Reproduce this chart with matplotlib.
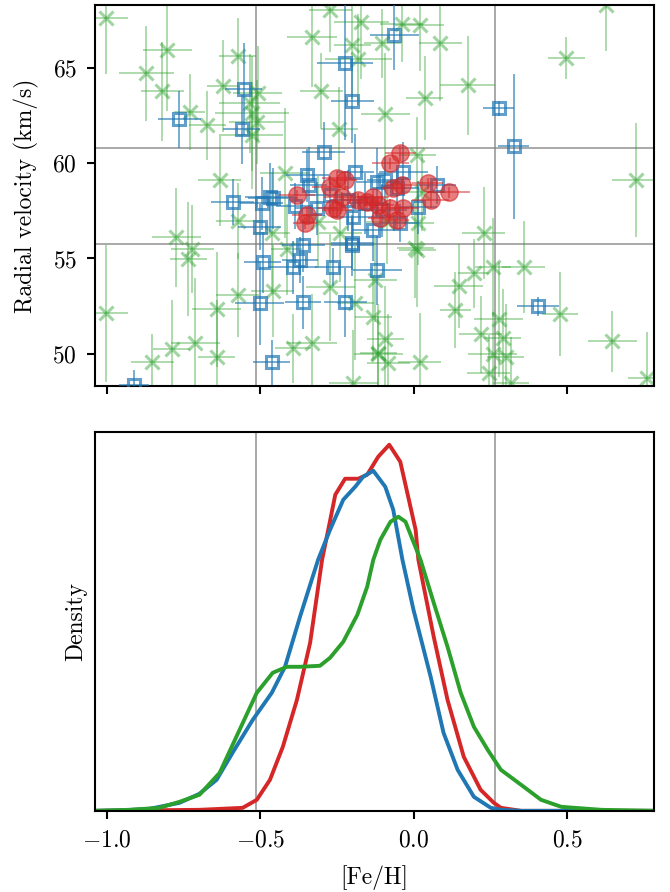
import matplotlib
matplotlib.use('Agg')
import matplotlib.pyplot as plt

plt.rcParams['font.family'] = 'serif'
plt.rcParams['font.serif'] = ['cmr10']
plt.rcParams['mathtext.fontset'] = 'cm'
plt.rcParams['axes.formatter.use_mathtext'] = True
plt.rcParams['font.size'] = 17

# Field stars (green crosses)
green_feh = [-1.003, -0.872, -0.804, -0.820, -0.731, -0.673, -0.623, -0.574, -0.633, -0.535,
             -0.528, -0.512, -0.509, -0.528, -0.332, -0.273, -0.171, -0.181, -0.201, -0.302,
             -0.243, -0.420, -0.040, 0.019, 0.087, -0.103, 0.176, 0.035, -0.093, 0.497,
             0.628, 0.726, 0.012, -0.774, -0.722, -0.735, -0.574, -0.643, -1.003, -0.712,
             -0.790, -0.853, -0.643, -0.460, -0.394, -0.332, -0.273, -0.132, -0.574, -0.463,
             -0.414, -0.240, -0.191, -0.198, -0.126, -0.116, 0.228, 0.012, 0.015, 0.258,
             0.195, 0.359, 0.146, 0.136, 0.477, 0.647, 0.277, 0.218, 0.290, 0.258,
             0.300, 0.244, 0.317, 0.019, -0.093, -0.116, -0.083, 0.759, 0.028, -0.312,
             -0.086, 0.005]
green_rv = [67.59, 64.71, 65.92, 63.77, 62.66, 61.98, 64.03, 65.60, 59.10, 63.14,
            62.61, 62.14, 63.66, 61.46, 66.60, 68.01, 67.42, 65.44, 66.18, 63.77,
            61.77, 59.49, 67.28, 67.23, 66.28, 66.28, 64.08, 63.40, 62.56, 65.50,
            68.27, 59.10, 60.41, 56.11, 55.48, 54.96, 53.07, 52.33, 52.12, 50.55,
            50.24, 49.56, 49.82, 53.28, 50.29, 50.55, 53.49, 51.92, 56.95, 56.34,
            55.48, 56.34, 52.65, 48.45, 53.85, 50.03, 56.34, 55.43, 56.85, 54.54,
            54.22, 54.54, 53.54, 52.28, 52.07, 50.66, 51.81, 51.02, 50.81, 49.97,
            49.81, 48.98, 48.46, 49.55, 50.76, 49.97, 49.50, 48.72, 58.46, 56.90,
            56.91, 55.53]
green_feh_err = [0.07, 0.09, 0.08, 0.07, 0.05, 0.06, 0.05, 0.06, 0.07, 0.10,
                 0.12, 0.09, 0.08, 0.10, 0.08, 0.07, 0.09, 0.11, 0.06, 0.07,
                 0.06, 0.08, 0.07, 0.08, 0.07, 0.06, 0.09, 0.06, 0.08, 0.06,
                 0.05, 0.08, 0.06, 0.08, 0.07, 0.06, 0.07, 0.08, 0.07, 0.08,
                 0.06, 0.07, 0.06, 0.07, 0.06, 0.08, 0.08, 0.06, 0.07, 0.06,
                 0.05, 0.07, 0.06, 0.08, 0.07, 0.06, 0.07, 0.06, 0.05, 0.06,
                 0.05, 0.07, 0.08, 0.05, 0.06, 0.08, 0.08, 0.07, 0.06, 0.08,
                 0.06, 0.07, 0.06, 0.07, 0.06, 0.08, 0.07, 0.06, 0.07, 0.06,
                 0.07, 0.06]
green_rv_err = [2.9, 2.5, 3.2, 2.6, 2.0, 1.8, 2.4, 2.0, 2.4, 2.6,
                3.0, 2.2, 2.5, 2.8, 2.6, 2.2, 3.0, 2.4, 2.8, 2.0,
                2.2, 3.4, 2.0, 2.4, 3.0, 1.8, 2.6, 2.2, 3.2, 1.1,
                2.4, 3.0, 2.0, 2.6, 2.3, 3.0, 2.2, 3.0, 3.6, 3.4,
                2.6, 1.5, 3.0, 2.4, 1.8, 2.6, 2.8, 2.2, 2.0, 3.2,
                2.4, 2.6, 3.0, 2.8, 2.2, 2.6, 2.4, 3.0, 2.2, 2.6,
                1.8, 2.4, 2.2, 2.0, 2.2, 1.6, 3.0, 2.0, 2.6, 2.2,
                2.8, 2.0, 2.4, 2.6, 2.8, 2.0, 2.6, 2.4, 2.0, 2.4,
                2.2, 2.6]

# Candidate members (blue squares)
blue_feh = [-0.063, -0.764, -0.555, -0.224, -0.201, 0.277, 0.326, -0.293, -0.561, -0.191,
            -0.348, -0.469, -0.591, -0.034, 0.077, -0.496, -0.460, -0.342, -0.502, -0.492,
            -0.394, -0.371, -0.361, -0.263, -0.201, -0.502, -0.361, -0.224, -0.463, -0.132,
            -0.119, -0.912, 0.015, 0.405, -0.388, -0.316, -0.273, -0.214, -0.119, -0.093,
            -0.054, -0.103, -0.158, -0.198, -0.044, -0.201]
blue_rv = [66.70, 62.30, 63.87, 65.23, 63.24, 62.87, 60.88, 60.57, 61.77, 59.52,
           59.36, 58.21, 57.94, 59.52, 58.84, 57.89, 58.15, 58.84, 56.63, 54.80,
           54.54, 54.90, 55.69, 54.54, 55.69, 52.65, 52.70, 52.70, 49.55, 56.48,
           54.38, 48.35, 57.68, 52.49, 57.73, 57.63, 58.31, 58.05, 58.99, 59.10,
           58.68, 57.52, 57.89, 57.16, 56.84, 55.79]
blue_feh_err = [0.08, 0.07, 0.06, 0.09, 0.07, 0.05, 0.05, 0.07, 0.06, 0.06,
                0.07, 0.08, 0.07, 0.08, 0.06, 0.07, 0.08, 0.06, 0.07, 0.06,
                0.08, 0.06, 0.07, 0.06, 0.07, 0.08, 0.06, 0.07, 0.06, 0.07,
                0.08, 0.05, 0.06, 0.07, 0.06, 0.07, 0.08, 0.06, 0.07, 0.06,
                0.07, 0.08, 0.06, 0.07, 0.06, 0.07]
blue_rv_err = [1.8, 1.5, 2.4, 4.0, 2.2, 0.4, 3.8, 1.6, 1.8, 2.0,
               1.4, 1.8, 1.2, 1.6, 1.0, 1.4, 1.6, 2.0, 1.2, 1.6,
               1.4, 1.2, 1.4, 1.0, 1.6, 2.2, 1.4, 1.8, 1.2, 1.6,
               1.8, 0.8, 1.4, 0.5, 1.2, 1.4, 1.0, 1.6, 1.8, 1.2,
               1.0, 1.4, 1.6, 1.2, 1.0, 1.4]

# High-probability members (red circles)
red_feh = [-0.044, -0.076, -0.250, -0.224, -0.381, -0.348, -0.355, -0.263, -0.273, -0.181,
           -0.152, -0.116, -0.076, -0.034, -0.054, 0.045, 0.055, 0.114, -0.037, -0.067,
           -0.132, -0.234, -0.250, -0.109]
red_rv = [60.51, 59.99, 59.20, 59.10, 58.31, 57.26, 56.85, 57.63, 58.73, 58.05,
          57.94, 57.78, 57.63, 57.63, 57.00, 58.94, 58.05, 58.47, 58.84, 58.68,
          58.21, 58.21, 57.52, 57.10]
red_feh_err = [0.05, 0.06, 0.05, 0.04, 0.06, 0.05, 0.04, 0.05, 0.06, 0.05,
               0.04, 0.05, 0.06, 0.05, 0.04, 0.05, 0.06, 0.07, 0.05, 0.04,
               0.05, 0.06, 0.05, 0.04]
red_rv_err = [0.4, 0.3, 0.4, 0.5, 0.3, 0.4, 0.3, 0.4, 0.3, 0.4,
              0.3, 0.4, 0.5, 0.3, 0.4, 0.3, 0.4, 0.3, 0.4, 0.3,
              0.4, 0.3, 0.4, 0.3]

# Selection box
feh_cut = [-0.515, 0.265]
rv_cut = [55.78, 60.78]

# Density curves (arbitrary units)
red_x = [-1.04, -0.699, -0.558, -0.512, -0.469, -0.427, -0.381, -0.338, -0.299, -0.273,
         -0.256, -0.224, -0.181, -0.152, -0.116, -0.080, -0.044, 0.006, 0.015, 0.065,
         0.110, 0.163, 0.218, 0.261, 0.284, 0.35, 0.78]
red_d = [0.0, 0.01, 0.03, 0.11, 0.31, 0.64, 1.11, 1.68, 2.51, 2.90,
         3.16, 3.32, 3.32, 3.36, 3.54, 3.66, 3.49, 2.81, 2.51, 1.74,
         1.11, 0.54, 0.21, 0.08, 0.03, 0.0, 0.0]
blue_x = [-1.04, -0.95, -0.862, -0.764, -0.699, -0.643, -0.591, -0.525, -0.463, -0.420,
          -0.371, -0.312, -0.273, -0.230, -0.191, -0.165, -0.132, -0.093, -0.067, -0.037,
          -0.001, 0.055, 0.097, 0.143, 0.196, 0.251, 0.284, 0.35, 0.78]
blue_d = [0.0, 0.005, 0.02, 0.08, 0.17, 0.31, 0.58, 0.91, 1.18, 1.44,
          1.94, 2.51, 2.81, 3.11, 3.24, 3.34, 3.40, 3.24, 3.01, 2.51,
          2.01, 1.34, 0.78, 0.41, 0.14, 0.03, 0.01, 0.0, 0.0]
green_x = [-1.04, -0.928, -0.830, -0.764, -0.699, -0.633, -0.568, -0.512, -0.460, -0.414,
           -0.371, -0.306, -0.273, -0.230, -0.184, -0.152, -0.132, -0.109, -0.076, -0.050,
           -0.027, -0.004, 0.022, 0.065, 0.110, 0.153, 0.196, 0.241, 0.284, 0.350,
           0.415, 0.481, 0.612, 0.78]
green_d = [0.0, 0.01, 0.03, 0.09, 0.16, 0.38, 0.81, 1.18, 1.38, 1.44,
           1.44, 1.45, 1.53, 1.69, 1.96, 2.24, 2.51, 2.71, 2.89, 2.94,
           2.89, 2.71, 2.51, 2.08, 1.64, 1.18, 0.84, 0.61, 0.41, 0.26,
           0.11, 0.04, 0.01, 0.0]

fig = plt.figure(figsize=(6.7, 8.92), dpi=100)
ax1 = fig.add_axes([0.142, 0.567, 0.834, 0.427])
ax2 = fig.add_axes([0.142, 0.091, 0.834, 0.425], sharex=ax1)

ax1.errorbar(green_feh, green_rv, xerr=green_feh_err, yerr=green_rv_err, fmt='x',
             color='tab:green', alpha=0.45, ms=10, mew=2.2, elinewidth=1.2, capsize=0, zorder=2)
ax1.errorbar(blue_feh, blue_rv, xerr=blue_feh_err, yerr=blue_rv_err, fmt='s',
             color='tab:blue', mfc='none', alpha=0.7, ms=9, mew=2.2, elinewidth=1.2,
             capsize=0, zorder=3)
ax1.errorbar(red_feh, red_rv, xerr=red_feh_err, yerr=red_rv_err, fmt='o',
             color='tab:red', alpha=0.6, ms=12.5, elinewidth=1.2, capsize=0, zorder=4)

for v in feh_cut:
    ax1.axvline(v, color='gray', lw=1.2, alpha=0.8, zorder=1)
    ax2.axvline(v, color='gray', lw=1.2, alpha=0.8, zorder=1)
for v in rv_cut:
    ax1.axhline(v, color='gray', lw=1.2, alpha=0.8, zorder=1)

ax1.set_ylim(48.3, 68.27)
ax1.set_yticks([50, 55, 60, 65])
ax1.set_ylabel('Radial velocity (km/s)', labelpad=10)
ax1.tick_params(axis='x', labelbottom=False)

ax2.plot(red_x, red_d, color='tab:red', lw=2.8)
ax2.plot(blue_x, blue_d, color='tab:blue', lw=2.8)
ax2.plot(green_x, green_d, color='tab:green', lw=2.8)
ax2.set_ylim(0, 3.79)
ax2.set_yticks([])
ax2.set_ylabel('Density', labelpad=6)
ax2.set_xlabel('[Fe/H]', labelpad=10)
ax2.set_xlim(-1.039, 0.783)
ax2.set_xticks([-1.0, -0.5, 0.0, 0.5])

for ax in (ax1, ax2):
    for s in ax.spines.values():
        s.set_linewidth(1.5)
    ax.tick_params(direction='out', length=6, width=1.5, labelsize=17, pad=7)

fig.savefig('out.png', dpi=100)
